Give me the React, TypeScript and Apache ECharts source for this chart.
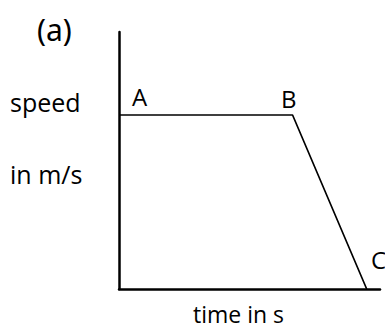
import React, { useEffect, useRef } from "react";
import * as echarts from "echarts";

const pointNames = ["A", "B", "C"];
const timeValues = [0, 6.65, 9.49];
const speedValues = [6.77, 6.77, 0];
const xLabel = "time in s";
const yLabelLines = ["speed", "in m/s"];
const panelLabel = "(a)";

const FONT = "'Open Sans', 'Liberation Sans', sans-serif";

export default function App() {
  const ref = useRef<HTMLDivElement>(null);
  useEffect(() => {
    if (!ref.current) return;
    const chart = echarts.init(ref.current, undefined, { renderer: "svg" });
    const lineData = timeValues.map((t, i) => [t, speedValues[i]]);
    const labelOffsets = [
      [20.5, -18.4],
      [-3.7, -16.4],
      [11.8, -29.4],
    ];
    chart.setOption({
      animation: false,
      backgroundColor: "#ffffff",
      grid: { left: 119, right: 5, top: 32, bottom: 40, containLabel: false },
      xAxis: {
        type: "value",
        min: 0,
        max: 10,
        axisLine: { show: true, onZero: false, lineStyle: { color: "#000", width: 2.5 } },
        axisTick: { show: false },
        axisLabel: { show: false },
        splitLine: { show: false },
      },
      yAxis: {
        type: "value",
        min: 0,
        max: 10,
        axisLine: { show: true, onZero: false, lineStyle: { color: "#000", width: 2.5 } },
        axisTick: { show: false },
        axisLabel: { show: false },
        splitLine: { show: false },
      },
      series: [
        {
          type: "line",
          data: lineData,
          symbol: "none",
          lineStyle: { color: "#000", width: 1.7 },
          z: 1,
        },
        {
          type: "scatter",
          symbolSize: 0,
          itemStyle: { color: "#000", opacity: 0 },
          data: lineData.map((d, i) => ({
            value: d,
            label: {
              show: true,
              formatter: pointNames[i],
              position: "inside",
              offset: labelOffsets[i],
              color: "#000",
              opacity: 1,
              textBorderWidth: 0,
              fontSize: 24,
              fontFamily: FONT,
            },
          })),
          z: 3,
        },
      ],
      graphic: [
        {
          type: "text",
          x: 37,
          y: 29,
          style: {
            text: panelLabel,
            fontSize: 30,
            fontFamily: "'Noto Sans', sans-serif",
            fill: "#000",
            textVerticalAlign: "middle",
          },
        },
        {
          type: "text",
          x: 10,
          y: 102,
          style: { text: yLabelLines[0], fontSize: 25, fontFamily: FONT, fill: "#000", textVerticalAlign: "middle" },
        },
        {
          type: "text",
          x: 10,
          y: 174,
          style: { text: yLabelLines[1], fontSize: 25, fontFamily: FONT, fill: "#000", textVerticalAlign: "middle" },
        },
        {
          type: "text",
          x: 193,
          y: 314,
          style: {
            text: xLabel,
            fontSize: 23,
            fontFamily: FONT,
            fill: "#000",
            textVerticalAlign: "middle",
          },
        },
      ],
    });
    return () => chart.dispose();
  }, []);
  return (
    <div
      ref={ref}
      style={{ position: "fixed", left: 0, top: 0, width: 385, height: 329 }}
    />
  );
}
